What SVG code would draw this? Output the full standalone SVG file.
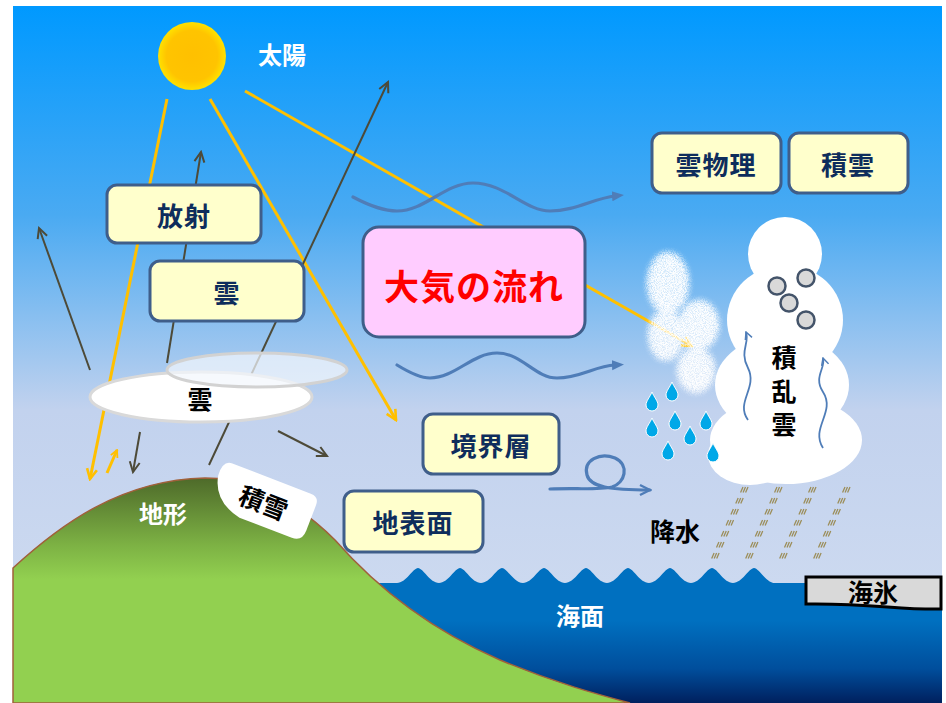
<svg xmlns="http://www.w3.org/2000/svg" width="946" height="703" viewBox="0 0 946 703">
  <style>
    .box { fill: #FFFFCC; stroke: #3F5E8A; stroke-width: 3; }
    .lbl { font-family: "Noto Sans CJK JP", "Noto Sans", sans-serif; font-weight: bold; font-size: 26px; fill: #0E2D5C; text-anchor: middle; dominant-baseline: central; letter-spacing: 1px; }
    .wlbl { font-family: "Noto Sans CJK JP", "Noto Sans", sans-serif; font-weight: bold; font-size: 24px; fill: #FFFFFF; text-anchor: middle; dominant-baseline: central; }
    .blbl { font-family: "Noto Sans CJK JP", "Noto Sans", sans-serif; font-weight: bold; font-size: 25px; fill: #000000; text-anchor: middle; dominant-baseline: central; }
    .ray { fill: none; stroke: #FFC000; stroke-width: 3; }
    .ir { fill: none; stroke: #4D4A38; stroke-width: 2; }
    .flow { fill: none; stroke: #4F7DB8; stroke-width: 3.2; stroke-linecap: round; }
    .updraft { fill: none; stroke: #4F7DB8; stroke-width: 1.8; }
    .drop { fill: #00A8E8; stroke: #FFFFFF; stroke-width: 1; }
    .hail { fill: #D9D9D9; stroke: #44546A; stroke-width: 2.5; }
    .precip { fill: none; stroke: #9C8E5A; stroke-width: 1.3; stroke-dasharray: 6 6; }
  </style>
  <defs>
    <linearGradient id="sky" x1="0" y1="0" x2="0" y2="1">
      <stop offset="0" stop-color="#0099FF"/>
      <stop offset="0.3" stop-color="#4AAAF2"/>
      <stop offset="0.58" stop-color="#C2D2EE"/>
      <stop offset="1" stop-color="#D3DEF1"/>
    </linearGradient>
    <radialGradient id="sun" cx="0.5" cy="0.5" r="0.5">
      <stop offset="0" stop-color="#FFC000"/>
      <stop offset="0.75" stop-color="#FFC400"/>
      <stop offset="1" stop-color="#FFE100"/>
    </radialGradient>
    <linearGradient id="hill" x1="0" y1="478" x2="0" y2="703" gradientUnits="userSpaceOnUse">
      <stop offset="0" stop-color="#4E6A2A"/>
      <stop offset="0.3" stop-color="#7DB244"/>
      <stop offset="0.45" stop-color="#92D050"/>
      <stop offset="1" stop-color="#92D050"/>
    </linearGradient>
    <linearGradient id="sea" x1="0" y1="566" x2="0" y2="703" gradientUnits="userSpaceOnUse">
      <stop offset="0" stop-color="#0070C0"/>
      <stop offset="0.4" stop-color="#0070C0"/>
      <stop offset="0.75" stop-color="#004E9C"/>
      <stop offset="1" stop-color="#00205E"/>
    </linearGradient>
    <filter id="mist" x="-30%" y="-30%" width="160%" height="160%">
      <feGaussianBlur in="SourceGraphic" stdDeviation="3" result="soft"/>
      <feTurbulence type="fractalNoise" baseFrequency="1.1" numOctaves="2" seed="3" result="noise"/>
      <feColorMatrix in="noise" type="matrix" values="0 0 0 0 1  0 0 0 0 1  0 0 0 0 1  0 0 0 3 -1.0" result="speck"/>
      <feComposite in="speck" in2="soft" operator="in" result="grain"/>
      <feComponentTransfer in="soft" result="faint"><feFuncA type="linear" slope="0.8"/></feComponentTransfer>
      <feMerge><feMergeNode in="faint"/><feMergeNode in="grain"/><feMergeNode in="grain"/></feMerge>
    </filter>
    <marker id="ahY" viewBox="0 0 14 14" refX="12" refY="7" markerWidth="14" markerHeight="14" markerUnits="userSpaceOnUse" orient="auto">
      <path d="M2,2 L12,7 L2,12" fill="none" stroke="#FFC000" stroke-width="2.6"/>
    </marker>
    <marker id="ahYs" viewBox="0 0 10 10" refX="9" refY="5" markerWidth="9" markerHeight="9" markerUnits="userSpaceOnUse" orient="auto">
      <path d="M1,1 L9,5 L1,9" fill="none" stroke="#FFC000" stroke-width="2"/>
    </marker>
    <marker id="ahD" viewBox="0 0 14 14" refX="12" refY="7" markerWidth="14" markerHeight="14" markerUnits="userSpaceOnUse" orient="auto">
      <path d="M2,2 L12,7 L2,12" fill="none" stroke="#4D4A38" stroke-width="2"/>
    </marker>
    <marker id="ahB" viewBox="0 0 12 12" refX="3" refY="6" markerWidth="12" markerHeight="12" markerUnits="userSpaceOnUse" orient="auto">
      <path d="M0,1 L12,6 L0,11 Z" fill="#4F7DB8"/>
    </marker>
    <marker id="ahBo" viewBox="0 0 14 14" refX="12" refY="7" markerWidth="14" markerHeight="14" markerUnits="userSpaceOnUse" orient="auto">
      <path d="M2,2 L12,7 L2,12" fill="none" stroke="#4F7DB8" stroke-width="2.4"/>
    </marker>
    <marker id="ahBs" viewBox="0 0 10 10" refX="9" refY="5" markerWidth="9" markerHeight="9" markerUnits="userSpaceOnUse" orient="auto">
      <path d="M1,1 L9,5 L1,9" fill="none" stroke="#4F7DB8" stroke-width="1.6"/>
    </marker>
    <path id="dropShape" d="M0,-10 C2,-5 6,-1 6,3 A6,6 0 0 1 -6,3 C-6,-1 -2,-5 0,-10 Z"/>
  </defs>

  <!-- sky -->
  <rect x="13" y="6" width="929" height="697" fill="url(#sky)"/>

  <!-- ocean with wave crests -->
  <path id="ocean" fill="url(#sea)" d="M300,583 L397,583
    C406,583 413,568 418,568 C423,568 430,583 439,583
    C448,583 455,568 460,568 C465,568 472,583 481,583
    C490,583 497,568 502,568 C507,568 514,583 523,583
    C532,583 539,568 544,568 C549,568 556,583 565,583
    C574,583 581,568 586,568 C591,568 598,583 607,583
    C616,583 623,568 628,568 C633,568 640,583 649,583
    C658,583 665,568 670,568 C675,568 682,583 691,583
    C700,583 707,568 712,568 C717,568 724,583 733,583
    C742,583 749,568 754,568 C759,568 766,583 775,583
    L942,583 L942,703 L300,703 Z"/>

  <!-- terrain -->
  <path id="terrain" fill="url(#hill)" stroke="#A0603A" stroke-width="1.5"
    d="M13,568 C60,525 120,480 205,478 C255,478 300,505 335,540 C370,580 420,625 500,660 C555,683 600,695 630,703 L13,703 Z"/>

  <!-- radiation and solar rays -->
  <g id="connectors">
    <line class="ray" x1="167" y1="99" x2="90" y2="479" marker-end="url(#ahY)"/>
    <line class="ray" x1="107" y1="473" x2="117" y2="450" marker-end="url(#ahYs)" stroke-width="2"/>
    <line class="ray" x1="210" y1="99" x2="396" y2="420" marker-end="url(#ahY)"/>
    <line class="ray" x1="245" y1="91" x2="692" y2="346" marker-end="url(#ahY)"/>
    <line class="ir" x1="90" y1="370" x2="39" y2="228" marker-end="url(#ahD)"/>
    <line class="ir" x1="167" y1="363" x2="201" y2="152" marker-end="url(#ahD)"/>
    <line class="ir" x1="209" y1="465" x2="388" y2="82" marker-end="url(#ahD)"/>
    <line class="ir" x1="140" y1="432" x2="133" y2="472" marker-end="url(#ahD)"/>
    <line class="ir" x1="278" y1="431" x2="327" y2="456" marker-end="url(#ahD)"/>
    <!-- atmospheric flow -->
    <path class="flow" d="M353,197 C370,206 383,211 397,211 C425,211 445,183 473,183 C505,183 525,211 550,211 C575,211 595,198 615,196" marker-end="url(#ahB)"/>
    <path class="flow" d="M397,365 C410,373 420,378 430,378 C455,378 472,353 497,353 C522,353 535,378 557,378 C580,378 595,366 615,365" marker-end="url(#ahB)"/>
    <!-- boundary-layer eddy -->
    <path class="flow" stroke-width="2.6" d="M550,489 C575,488 600,490 612,487 C625,483 630,465 615,458 C600,452 583,460 587,475 C590,487 610,490 650,490" marker-end="url(#ahBo)"/>
  </g>

  <!-- sun -->
  <g id="sun-node">
    <circle cx="192" cy="56" r="34" fill="url(#sun)"/>
    <text class="wlbl" x="282" y="53" font-size="26">太陽</text>
  </g>

  <!-- stratiform clouds -->
  <g id="cloud-layer">
    <ellipse cx="201" cy="397" rx="111" ry="25" fill="#FFFFFF" stroke="#D9D9D9" stroke-width="3"/>
    <ellipse cx="257" cy="370" rx="90" ry="17" fill="#F2F6FC" fill-opacity="0.72" stroke="#D2D2D2" stroke-width="3"/>
    <text class="blbl" x="200" y="398">雲</text>
  </g>

  <!-- snow cover -->
  <g id="snow" transform="translate(263,501) rotate(21)">
    <path d="M-42,-24 L42,-24 Q51,-24 51,-15 L51,12 Q51,24 40,24 L-16,24 Q-46,18 -51,-8 Q-52,-24 -42,-24 Z" fill="#FFFFFF"/>
    <text class="blbl" x="1" y="0" font-size="27">積雪</text>
  </g>

  <g id="terrain-label"><text class="wlbl" x="163" y="512">地形</text></g>

  <!-- label boxes -->
  <g id="radiation">
    <rect class="box" x="107" y="185" width="154" height="58" rx="10"/>
    <text class="lbl" x="184" y="214">放射</text>
  </g>
  <g id="cloud">
    <rect class="box" x="150" y="261" width="154" height="60" rx="10"/>
    <text class="lbl" x="227" y="291">雲</text>
  </g>
  <g id="atmos-flow">
    <rect x="363" y="227" width="222" height="110" rx="16" fill="#FFCCFF" stroke="#3F5E8A" stroke-width="3"/>
    <text x="474" y="284" font-family="Noto Sans CJK JP, Noto Sans, sans-serif" font-weight="bold" font-size="35" fill="#FF0000" text-anchor="middle" dominant-baseline="central" letter-spacing="1">大気の流れ</text>
  </g>
  <g id="cloud-physics">
    <rect class="box" x="652" y="133" width="129" height="60" rx="10"/>
    <text class="lbl" x="716" y="163">雲物理</text>
  </g>
  <g id="cumulus">
    <rect class="box" x="789" y="133" width="119" height="60" rx="10"/>
    <text class="lbl" x="848" y="163">積雲</text>
  </g>
  <g id="boundary-layer">
    <rect class="box" x="423" y="414" width="136" height="60" rx="10"/>
    <text class="lbl" x="491" y="444">境界層</text>
  </g>
  <g id="land-surface">
    <rect class="box" x="344" y="491" width="139" height="61" rx="10"/>
    <text class="lbl" x="413" y="521">地表面</text>
  </g>

  <!-- haze / mist -->
  <g id="mist-patches" filter="url(#mist)">
    <ellipse cx="668" cy="283" rx="20" ry="30" fill="#FFFFFF" fill-opacity="0.85"/>
    <ellipse cx="666" cy="335" rx="17" ry="25" fill="#FFFFFF" fill-opacity="0.8"/>
    <ellipse cx="699" cy="325" rx="19" ry="24" fill="#FFFFFF" fill-opacity="0.85"/>
    <ellipse cx="696" cy="370" rx="18" ry="22" fill="#FFFFFF" fill-opacity="0.8"/>
  </g>

  <!-- cumulonimbus -->
  <g id="cumulonimbus">
    <g fill="#FFFFFF">
      <ellipse cx="785" cy="254" rx="37" ry="37"/>
      <ellipse cx="785" cy="320" rx="58" ry="55"/>
      <ellipse cx="782" cy="385" rx="67" ry="50"/>
      <ellipse cx="786" cy="440" rx="76" ry="44"/>
      <ellipse cx="750" cy="455" rx="42" ry="30"/>
    </g>
    <circle class="hail" cx="777" cy="286" r="8.5"/>
    <circle class="hail" cx="806" cy="278" r="8.5"/>
    <circle class="hail" cx="789" cy="303" r="8.5"/>
    <circle class="hail" cx="806" cy="320" r="8.5"/>
    <path class="updraft" d="M748,420 C735,402 758,388 748,368 C739,352 750,342 746,332" marker-end="url(#ahBs)"/>
    <path class="updraft" d="M823,448 C810,428 836,412 823,392 C813,377 826,368 823,358" marker-end="url(#ahBs)"/>
    <text class="blbl" x="784" y="356">積</text>
    <text class="blbl" x="784" y="390">乱</text>
    <text class="blbl" x="784" y="423">雲</text>
  </g>

  <!-- rain drops -->
  <g id="raindrops">
    <use href="#dropShape" class="drop" x="652" y="402"/>
    <use href="#dropShape" class="drop" x="672" y="392"/>
    <use href="#dropShape" class="drop" x="652" y="428"/>
    <use href="#dropShape" class="drop" x="675" y="421"/>
    <use href="#dropShape" class="drop" x="706" y="421"/>
    <use href="#dropShape" class="drop" x="690" y="436"/>
    <use href="#dropShape" class="drop" x="668" y="451"/>
    <use href="#dropShape" class="drop" x="713" y="453"/>
  </g>

  <!-- precipitation shafts -->
  <g id="precipitation">
    <g>
      <line class="precip" x1="743" y1="487" x2="711" y2="560"/>
      <line class="precip" x1="745.5" y1="487" x2="713.5" y2="560"/>
      <line class="precip" x1="748" y1="487" x2="716" y2="560"/>
    </g>
    <g>
      <line class="precip" x1="777" y1="487" x2="745" y2="560"/>
      <line class="precip" x1="779.5" y1="487" x2="747.5" y2="560"/>
      <line class="precip" x1="782" y1="487" x2="750" y2="560"/>
    </g>
    <g>
      <line class="precip" x1="811" y1="487" x2="779" y2="560"/>
      <line class="precip" x1="813.5" y1="487" x2="781.5" y2="560"/>
      <line class="precip" x1="816" y1="487" x2="784" y2="560"/>
    </g>
    <g>
      <line class="precip" x1="845" y1="487" x2="813" y2="560"/>
      <line class="precip" x1="847.5" y1="487" x2="815.5" y2="560"/>
      <line class="precip" x1="850" y1="487" x2="818" y2="560"/>
    </g>
    <text class="blbl" x="675" y="530" font-size="24">降水</text>
  </g>

  <g id="sea-surface"><text class="wlbl" x="580" y="614">海面</text></g>

  <g id="sea-ice">
    <path d="M806,577 L941,577 L941,609 C900,610 870,603 806,604 Z" fill="#D9D9D9" stroke="#000000" stroke-width="3"/>
    <text class="blbl" x="873" y="591" font-size="25">海氷</text>
  </g>
</svg>
